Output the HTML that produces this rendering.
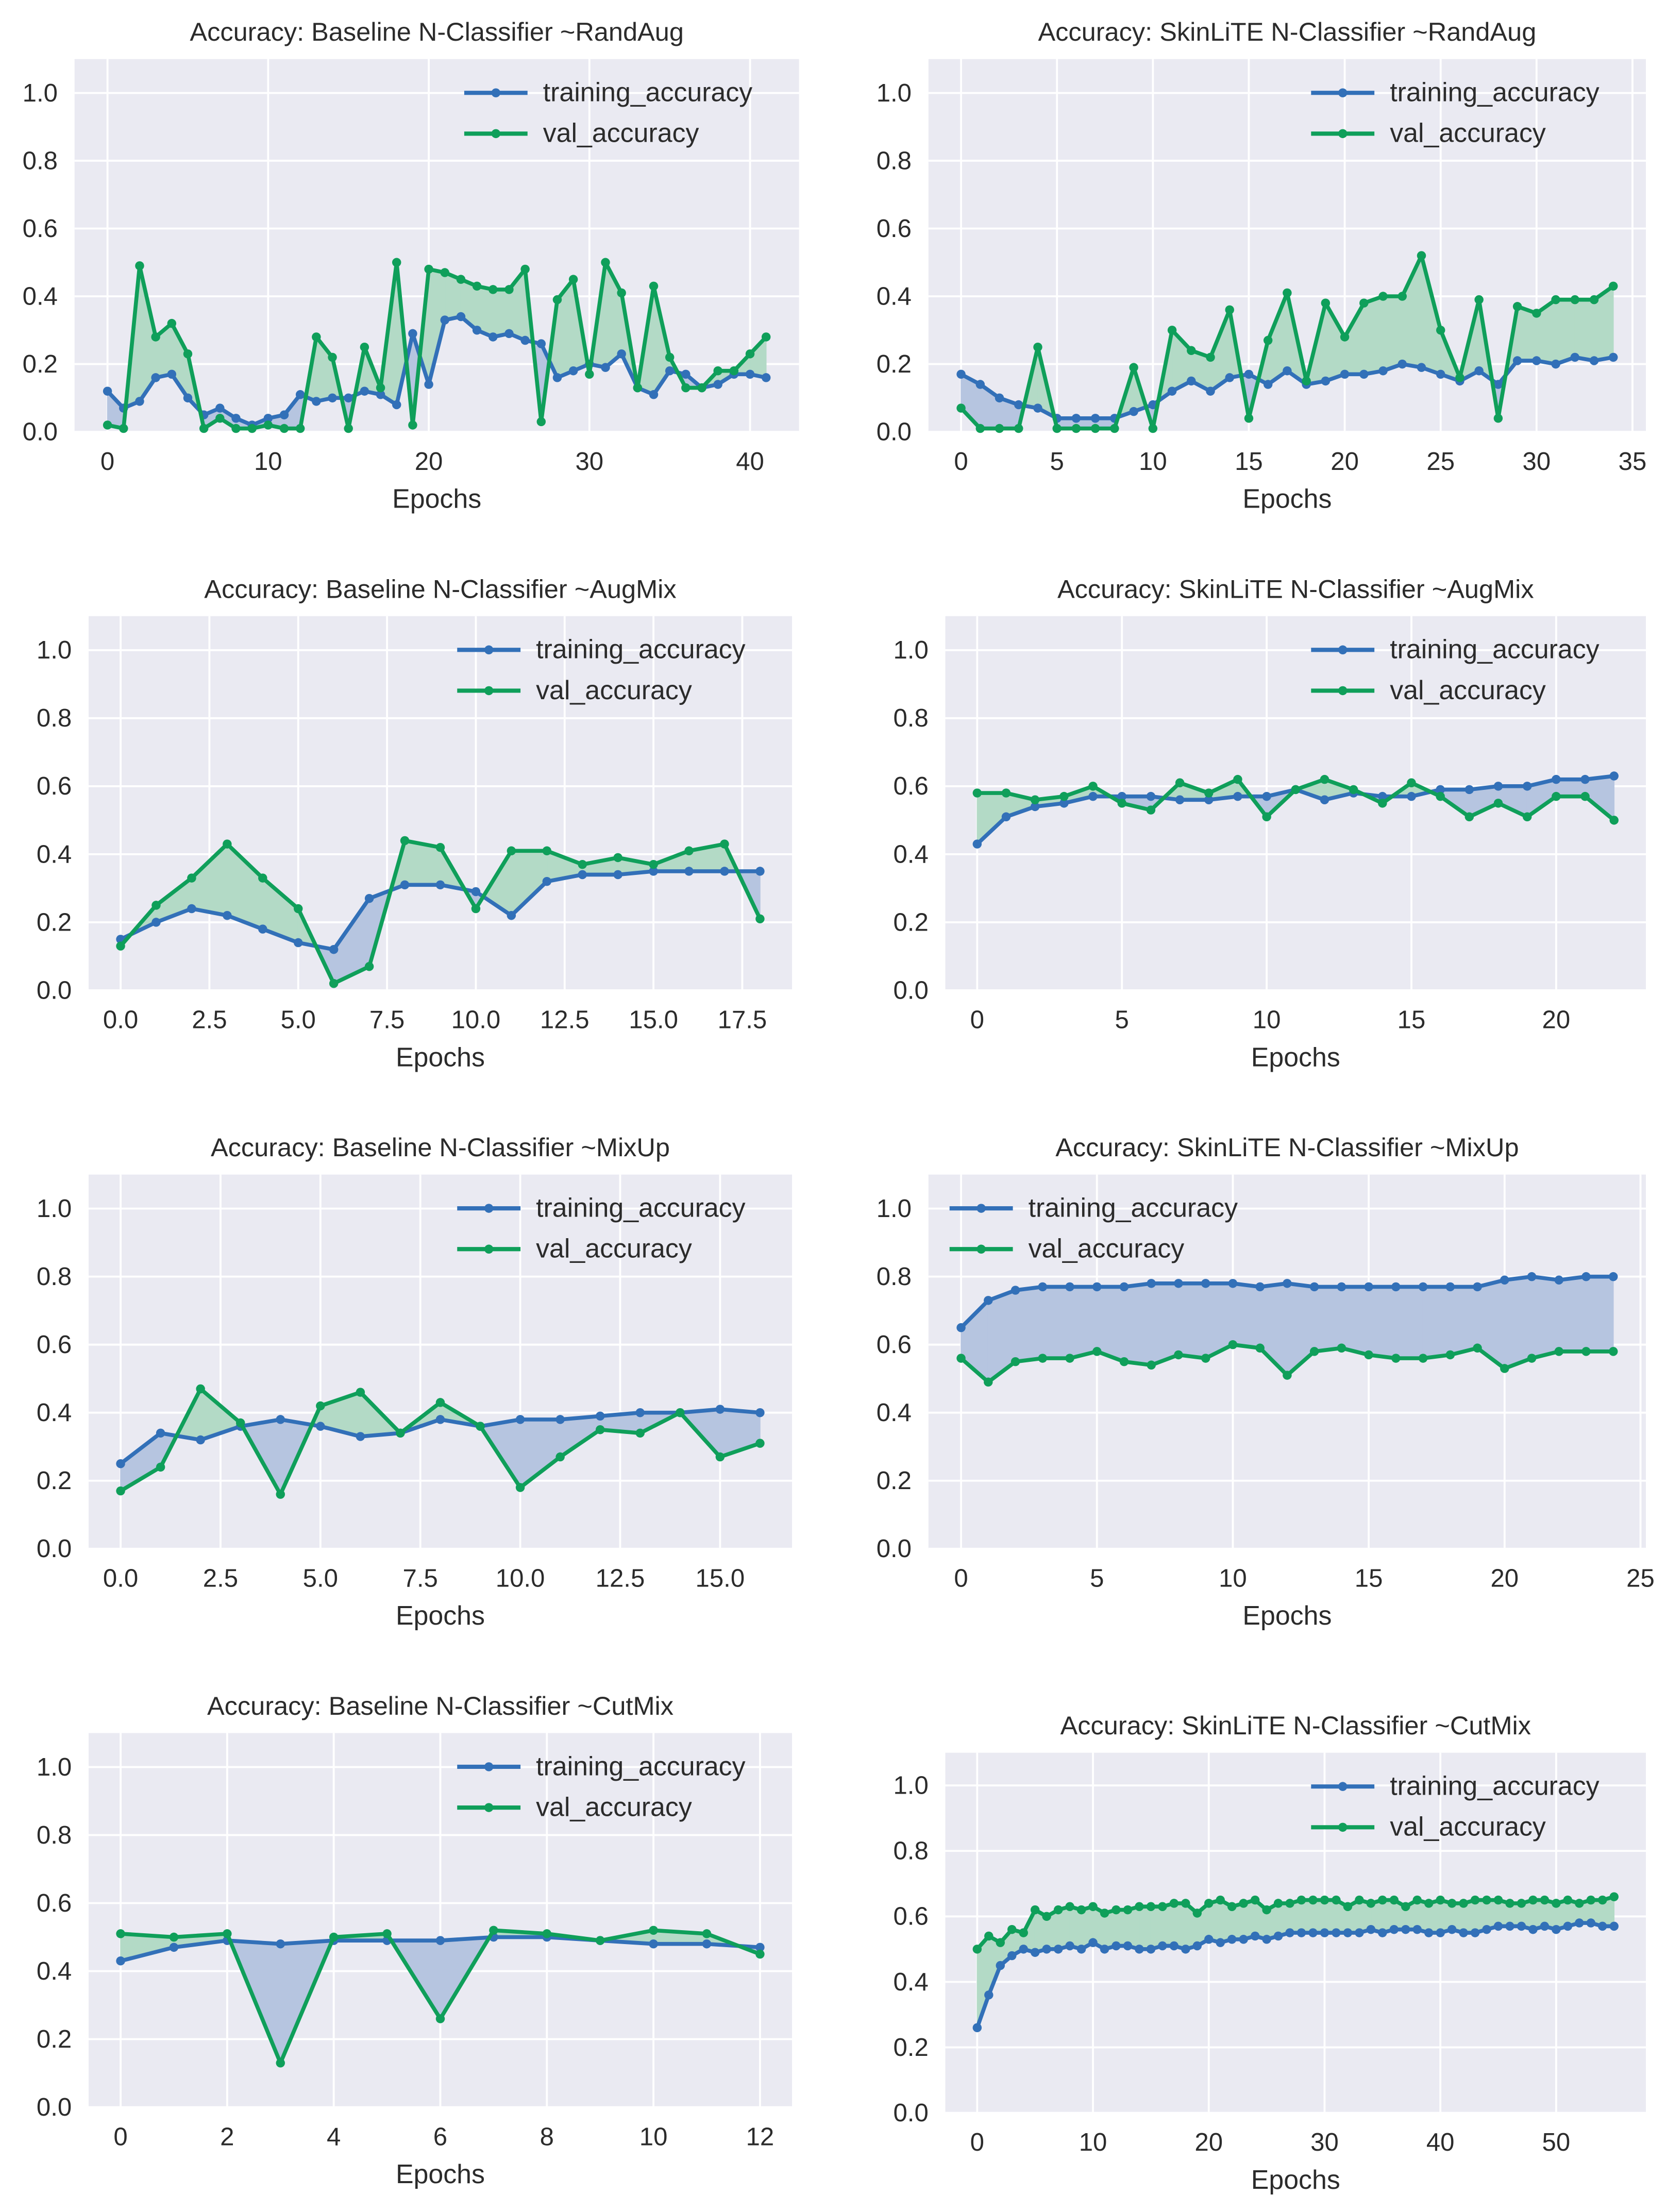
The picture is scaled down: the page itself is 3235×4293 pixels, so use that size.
<!DOCTYPE html>
<html><head><meta charset="utf-8">
<style>
html,body{margin:0;padding:0;background:#fff;}
svg{display:block;}
text{font-family:"Liberation Sans",sans-serif;fill:#2b2b2b;}
</style></head>
<body>
<svg id="fig" width="3235" height="4293" viewBox="0 0 1185 1572.5" preserveAspectRatio="none" xmlns="http://www.w3.org/2000/svg"></svg>
<script>
// ---- data ----
const p1Train=[0.12,0.07,0.09,0.16,0.17,0.10,0.05,0.07,0.04,0.02,0.04,0.05,0.11,0.09,0.10,0.10,0.12,0.11,0.08,0.29,0.14,0.33,0.34,0.30,0.28,0.29,0.27,0.26,0.16,0.18,0.20,0.19,0.23,0.13,0.11,0.18,0.17,0.13,0.14,0.17,0.17,0.16];
const p1Val=[0.02,0.01,0.49,0.28,0.32,0.23,0.01,0.04,0.01,0.01,0.02,0.01,0.01,0.28,0.22,0.01,0.25,0.13,0.50,0.02,0.48,0.47,0.45,0.43,0.42,0.42,0.48,0.03,0.39,0.45,0.17,0.50,0.41,0.13,0.43,0.22,0.13,0.13,0.18,0.18,0.23,0.28];
const p2Train=[0.17,0.14,0.10,0.08,0.07,0.04,0.04,0.04,0.04,0.06,0.08,0.12,0.15,0.12,0.16,0.17,0.14,0.18,0.14,0.15,0.17,0.17,0.18,0.20,0.19,0.17,0.15,0.18,0.14,0.21,0.21,0.20,0.22,0.21,0.22];
const p2Val=[0.07,0.01,0.01,0.01,0.25,0.01,0.01,0.01,0.01,0.19,0.01,0.30,0.24,0.22,0.36,0.04,0.27,0.41,0.15,0.38,0.28,0.38,0.40,0.40,0.52,0.30,0.16,0.39,0.04,0.37,0.35,0.39,0.39,0.39,0.43];
const p3Train=[0.15,0.20,0.24,0.22,0.18,0.14,0.12,0.27,0.31,0.31,0.29,0.22,0.32,0.34,0.34,0.35,0.35,0.35,0.35];
const p3Val=[0.13,0.25,0.33,0.43,0.33,0.24,0.02,0.07,0.44,0.42,0.24,0.41,0.41,0.37,0.39,0.37,0.41,0.43,0.21];
const p4Train=[0.43,0.51,0.54,0.55,0.57,0.57,0.57,0.56,0.56,0.57,0.57,0.59,0.56,0.58,0.57,0.57,0.59,0.59,0.60,0.60,0.62,0.62,0.63];
const p4Val=[0.58,0.58,0.56,0.57,0.60,0.55,0.53,0.61,0.58,0.62,0.51,0.59,0.62,0.59,0.55,0.61,0.57,0.51,0.55,0.51,0.57,0.57,0.50];
const p5Train=[0.25,0.34,0.32,0.36,0.38,0.36,0.33,0.34,0.38,0.36,0.38,0.38,0.39,0.40,0.40,0.41,0.40];
const p5Val=[0.17,0.24,0.47,0.37,0.16,0.42,0.46,0.34,0.43,0.36,0.18,0.27,0.35,0.34,0.40,0.27,0.31];
const p6Train=[0.65,0.73,0.76,0.77,0.77,0.77,0.77,0.78,0.78,0.78,0.78,0.77,0.78,0.77,0.77,0.77,0.77,0.77,0.77,0.77,0.79,0.80,0.79,0.80,0.80];
const p6Val=[0.56,0.49,0.55,0.56,0.56,0.58,0.55,0.54,0.57,0.56,0.60,0.59,0.51,0.58,0.59,0.57,0.56,0.56,0.57,0.59,0.53,0.56,0.58,0.58,0.58];
const p7Train=[0.43,0.47,0.49,0.48,0.49,0.49,0.49,0.50,0.50,0.49,0.48,0.48,0.47];
const p7Val=[0.51,0.50,0.51,0.13,0.50,0.51,0.26,0.52,0.51,0.49,0.52,0.51,0.45];
const p8Train=[0.26,0.36,0.45,0.48,0.50,0.49,0.50,0.50,0.51,0.50,0.52,0.50,0.51,0.51,0.50,0.50,0.51,0.51,0.50,0.51,0.53,0.52,0.53,0.53,0.54,0.53,0.54,0.55,0.55,0.55,0.55,0.55,0.55,0.55,0.56,0.55,0.56,0.56,0.56,0.55,0.55,0.56,0.55,0.55,0.56,0.57,0.57,0.57,0.56,0.57,0.56,0.57,0.58,0.58,0.57,0.57];
const p8Val=[0.50,0.54,0.52,0.56,0.55,0.62,0.60,0.62,0.63,0.62,0.63,0.61,0.62,0.62,0.63,0.63,0.63,0.64,0.64,0.61,0.64,0.65,0.63,0.64,0.65,0.62,0.64,0.64,0.65,0.65,0.65,0.65,0.63,0.65,0.64,0.65,0.65,0.63,0.65,0.64,0.65,0.64,0.64,0.65,0.65,0.65,0.64,0.64,0.65,0.65,0.64,0.65,0.64,0.65,0.65,0.66];
const yTicks=[0.0,0.2,0.4,0.6,0.8,1.0];
const xTicks1=[0,10,20,30,40];
const xTicks2=[0,5,10,15,20,25,30,35];
const xTicks3=[0,2.5,5,7.5,10,12.5,15,17.5];
const xTicks4=[0,5,10,15,20];
const xTicks5=[0,2.5,5,7.5,10,12.5,15];
const xTicks6=[0,5,10,15,20,25];
const xTicks7=[0,2,4,6,8,10,12];
const xTicks8=[0,10,20,30,40,50];
const titles=["Accuracy: Baseline N-Classifier ~RandAug","Accuracy: SkinLiTE N-Classifier ~RandAug","Accuracy: Baseline N-Classifier ~AugMix","Accuracy: SkinLiTE N-Classifier ~AugMix","Accuracy: Baseline N-Classifier ~MixUp","Accuracy: SkinLiTE N-Classifier ~MixUp","Accuracy: Baseline N-Classifier ~CutMix","Accuracy: SkinLiTE N-Classifier ~CutMix"];

const panels=[
 {l:53,r:568,t:42,b:307,tr:p1Train,va:p1Val,xt:xTicks1,dec:0,leg:'r'},
 {l:660,r:1170,t:42,b:307,tr:p2Train,va:p2Val,xt:xTicks2,dec:0,leg:'r'},
 {l:63,r:563,t:438,b:704,tr:p3Train,va:p3Val,xt:xTicks3,dec:1,leg:'r'},
 {l:672,r:1170,t:438,b:704,tr:p4Train,va:p4Val,xt:xTicks4,dec:0,leg:'r'},
 {l:63,r:563,t:835,b:1101,tr:p5Train,va:p5Val,xt:xTicks5,dec:1,leg:'r'},
 {l:660,r:1170,t:835,b:1101,tr:p6Train,va:p6Val,xt:xTicks6,dec:0,leg:'l'},
 {l:63,r:563,t:1232,b:1498,tr:p7Train,va:p7Val,xt:xTicks7,dec:0,leg:'r'},
 {l:672,r:1170,t:1246,b:1502,tr:p8Train,va:p8Val,xt:xTicks8,dec:0,leg:'r'}
];
const BLUE="#3270b8",GREEN="#0f9f5a",BFILL="#b6c5e0",GFILL="#b3dac6";
const NS="http://www.w3.org/2000/svg";
const svg=document.getElementById('fig');
function mk(tag,attrs,parent){const e=document.createElementNS(NS,tag);for(const k in attrs)e.setAttribute(k,attrs[k]);(parent||svg).appendChild(e);return e;}

panels.forEach((p,pi)=>{
  const g=mk('g',{});
  
  
  const n=p.tr.length, span=n-1;
  const x0=-0.05*span, x1=span*1.05;
  const X=v=>p.l+(v-x0)/(x1-x0)*(p.r-p.l);
  const Y=v=>p.b-(v/1.1)*(p.b-p.t);
  const bg=mk('rect',{x:p.l,y:p.t,width:p.r-p.l,height:p.b-p.t,fill:'#eaeaf2'},g);
  
  
  yTicks.forEach(v=>{
    const ln=mk('line',{x1:p.l,x2:p.r,y1:Y(v),y2:Y(v),stroke:'#fff','stroke-width':1.4},g);
    
    
    const t=mk('text',{x:p.l-12,y:Y(v)+6,'text-anchor':'end','font-size':18},g);
    t.textContent=v.toFixed(1);
    
    
  });
  p.xt.forEach(v=>{
    const ln=mk('line',{x1:X(v),x2:X(v),y1:p.t,y2:p.b,stroke:'#fff','stroke-width':1.4},g);
    
    
    const t=mk('text',{x:X(v),y:p.b+27,'text-anchor':'middle','font-size':18},g);
    t.textContent=p.dec?v.toFixed(1):String(v);
    
    
  });
  const xl=mk('text',{x:(p.l+p.r)/2,y:p.b+54,'text-anchor':'middle','font-size':19},g);
  xl.textContent='Epochs';
  
  
  const tt=mk('text',{x:(p.l+p.r)/2,y:p.t-13,'text-anchor':'middle','font-size':18.5},g);
  tt.textContent=titles[pi];
  
  
  // fills
  for(let i=0;i<n-1;i++){
    const a=p.tr[i],b=p.tr[i+1],c=p.va[i],d=p.va[i+1];
    const d0=c-a,d1=d-b;
    const polys=[];
    if(d0*d1>=0){
      polys.push({pts:[[i,a],[i+1,b],[i+1,d],[i,c]],s:(d0+d1)>=0});
    }else{
      const f=d0/(d0-d1), xc=i+f, yc=a+(b-a)*f;
      polys.push({pts:[[i,a],[xc,yc],[i,c]],s:d0>0});
      polys.push({pts:[[xc,yc],[i+1,b],[i+1,d]],s:d1>0});
    }
    polys.forEach(q=>{
      const col=q.s?GFILL:BFILL;
      const pg=mk('polygon',{points:q.pts.map(k=>X(k[0])+','+Y(k[1])).join(' '),fill:col,stroke:col,'stroke-width':0.6},g);
      
      
    });
  }
  [[p.tr,BLUE,'training-accuracy'],[p.va,GREEN,'val-accuracy']].forEach(s=>{
    const pl=mk('polyline',{points:s[0].map((v,i)=>X(i)+','+Y(v)).join(' '),fill:'none',stroke:s[1],'stroke-width':2.8,'stroke-linejoin':'round'},g);
    
    
    s[0].forEach((v,i)=>{
      const c=mk('circle',{cx:X(i),cy:Y(v),r:3.2,fill:s[1]},g);
      
      
    });
  });
  // legend
  const lx=p.leg==='r'?p.r-238:p.l+15;
  const ly=p.t+24;
  const lg=mk('g',{},g);
  
  
  [['training_accuracy',BLUE],['val_accuracy',GREEN]].forEach((e,k)=>{
    const yy=ly+k*29;
    const ln=mk('line',{x1:lx,x2:lx+45,y1:yy,y2:yy,stroke:e[1],'stroke-width':3},lg);
    
    
    mk('circle',{cx:lx+22.5,cy:yy,r:3.2,fill:e[1]},lg);
    const t=mk('text',{x:lx+56,y:yy+6,'font-size':19},lg);
    t.textContent=e[0];
    
    
  });
});
</script>
</body></html>
